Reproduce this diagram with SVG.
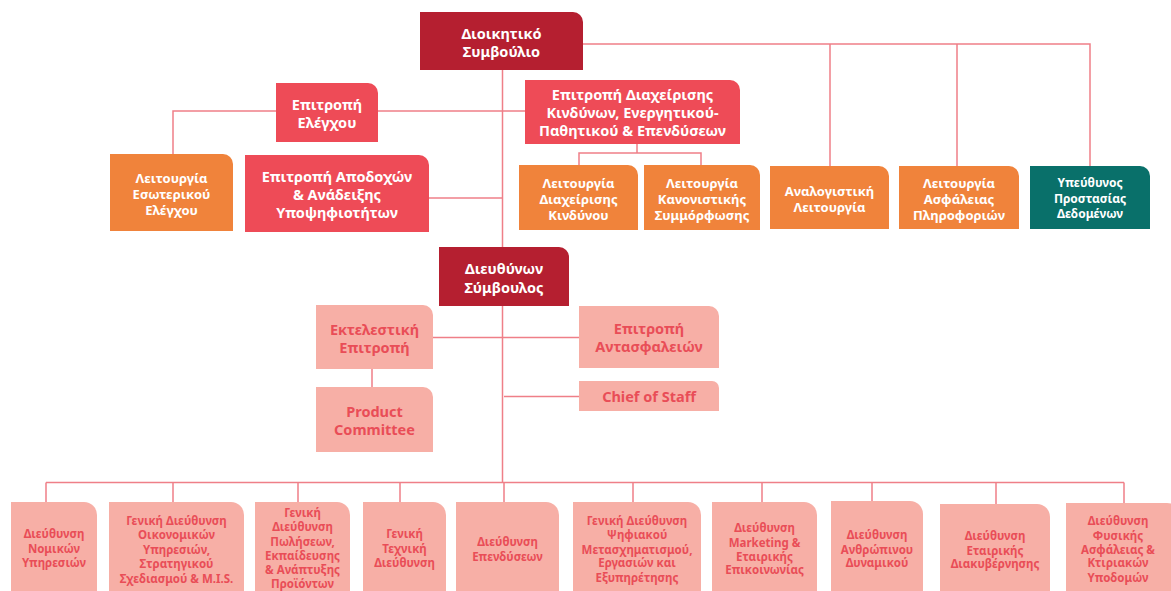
<svg xmlns="http://www.w3.org/2000/svg" width="1171" height="591" viewBox="0 0 1171 591">
<style>
text{font-family:"Noto Sans","DejaVu Sans",sans-serif;font-weight:700;text-anchor:middle}
.dark{fill:#b51f30}.red{fill:#ee4b57}.org{fill:#f0833b}.teal{fill:#09706a}.pink{fill:#f7afa6}
.w{fill:#fff}.p{fill:#e94d57}
.f15{font-size:14.5px}.f13{font-size:13px}.f12{font-size:12px}.f11{font-size:11.5px}
#connectors path{fill:none;stroke:#ef7f88;stroke-width:1.5}
</style>
<rect width="1171" height="591" fill="#fff"/>
<g id="connectors">
<path d="M502.5 70V482"/>
<path d="M583 44H1090V166M830 44V166M957 44V166"/>
<path d="M378 111H525M276 111H173V154"/>
<path d="M429 198H502.5"/>
<path d="M637 144V153H579V165M637 153H701V165"/>
<path d="M433 337.5H579M504 396.5H579M372 369V387"/>
<path d="M46 482.5H1124M46 482.5V502M173 482.5V502M298 482.5V502M400 482.5V502M504 482.5V502M633 482.5V502M762 482.5V502M872 482.5V501M996 482.5V504M1124 482.5V503"/>
</g>
<g id="n-board"><path class="dark" d="M420 12H573A10 10 0 0 1 583 22V70H420Z"/><text class="w f15" x="501.5" y="39">Διοικητικό</text><text class="w f15" x="501.5" y="57">Συμβούλιο</text></g>
<g id="n-audit"><path class="red" d="M276 83H368A10 10 0 0 1 378 93V142H276Z"/><text class="w f15" x="327" y="110">Επιτροπή</text><text class="w f15" x="327" y="128">Ελέγχου</text></g>
<g id="n-risk"><path class="red" d="M525 80H730A10 10 0 0 1 740 90V144H525Z"/><text class="w f15" x="632.5" y="100">Επιτροπή Διαχείρισης</text><text class="w f15" x="632.5" y="118">Κινδύνων, Ενεργητικού-</text><text class="w f15" x="632.5" y="136">Παθητικού &amp; Επενδύσεων</text></g>
<g id="n-intaudit"><path class="org" d="M110 154H223A10 10 0 0 1 233 164V231H110Z"/><text class="w f13" x="171.5" y="182.5">Λειτουργία</text><text class="w f13" x="171.5" y="198.5">Εσωτερικού</text><text class="w f13" x="171.5" y="214.5">Ελέγχου</text></g>
<g id="n-remun"><path class="red" d="M245 155H419A10 10 0 0 1 429 165V232H245Z"/><text class="w f15" x="337" y="182">Επιτροπή Αποδοχών</text><text class="w f15" x="337" y="200">&amp; Ανάδειξης</text><text class="w f15" x="337" y="218">Υποψηφιοτήτων</text></g>
<g id="n-riskfn"><path class="org" d="M519 165H628A10 10 0 0 1 638 175V230H519Z"/><text class="w f13" x="578.5" y="187.5">Λειτουργία</text><text class="w f13" x="578.5" y="203.5">Διαχείρισης</text><text class="w f13" x="578.5" y="219.5">Κινδύνου</text></g>
<g id="n-compliance"><path class="org" d="M644 165H750A10 10 0 0 1 760 175V230H644Z"/><text class="w f13" x="702" y="187.5">Λειτουργία</text><text class="w f13" x="702" y="203.5">Κανονιστικής</text><text class="w f13" x="702" y="219.5">Συμμόρφωσης</text></g>
<g id="n-actuarial"><path class="org" d="M770 166H879A10 10 0 0 1 889 176V229H770Z"/><text class="w f13" x="829.5" y="196">Αναλογιστική</text><text class="w f13" x="829.5" y="212">Λειτουργία</text></g>
<g id="n-infosec"><path class="org" d="M899 166H1009A10 10 0 0 1 1019 176V229H899Z"/><text class="w f13" x="959" y="187.5">Λειτουργία</text><text class="w f13" x="959" y="203.5">Ασφάλειας</text><text class="w f13" x="959" y="219.5">Πληροφοριών</text></g>
<g id="n-dpo"><path class="teal" d="M1030 166H1140A10 10 0 0 1 1150 176V229H1030Z"/><text class="w f12" x="1090" y="187">Υπεύθυνος</text><text class="w f12" x="1090" y="203">Προστασίας</text><text class="w f12" x="1090" y="218">Δεδομένων</text></g>
<g id="n-ceo"><path class="dark" d="M439 247H559A10 10 0 0 1 569 257V306H439Z"/><text class="w f15" x="504" y="274">Διευθύνων</text><text class="w f15" x="504" y="293">Σύμβουλος</text></g>
<g id="n-exec"><path class="pink" d="M316 305H423A10 10 0 0 1 433 315V369H316Z"/><text class="p f15" x="374.5" y="335">Εκτελεστική</text><text class="p f15" x="374.5" y="353">Επιτροπή</text></g>
<g id="n-reins"><path class="pink" d="M579 306H709A10 10 0 0 1 719 316V368H579Z"/><text class="p f15" x="649" y="334">Επιτροπή</text><text class="p f15" x="649" y="352">Αντασφαλειών</text></g>
<g id="n-chief"><path class="pink" d="M579 381H712A7 7 0 0 1 719 388V411H579Z"/><text class="p f15" x="649" y="401.5">Chief of Staff</text></g>
<g id="n-product"><path class="pink" d="M316 387H423A10 10 0 0 1 433 397V452H316Z"/><text class="p f15" x="374.5" y="417">Product</text><text class="p f15" x="374.5" y="435">Committee</text></g>
<g id="n-legal"><path class="pink" d="M11 502H84A13 13 0 0 1 97 515V600H11Z"/><text class="p f11" x="54" y="538">Διεύθυνση</text><text class="p f11" x="54" y="553">Νομικών</text><text class="p f11" x="54" y="567">Υπηρεσιών</text></g>
<g id="n-finance"><path class="pink" d="M109 502H231A13 13 0 0 1 244 515V600H109Z"/><text class="p f11" x="176.5" y="525">Γενική Διεύθυνση</text><text class="p f11" x="176.5" y="539">Οικονομικών</text><text class="p f11" x="176.5" y="554">Υπηρεσιών,</text><text class="p f11" x="176.5" y="568">Στρατηγικού</text><text class="p f11" x="176.5" y="583">Σχεδιασμού &amp; M.I.S.</text></g>
<g id="n-sales"><path class="pink" d="M255 502H337A13 13 0 0 1 350 515V600H255Z"/><text class="p f11" x="302.5" y="516.5">Γενική</text><text class="p f11" x="302.5" y="531">Διεύθυνση</text><text class="p f11" x="302.5" y="545.5">Πωλήσεων,</text><text class="p f11" x="302.5" y="559.5">Εκπαίδευσης</text><text class="p f11" x="302.5" y="573.5">&amp; Ανάπτυξης</text><text class="p f11" x="302.5" y="587.5">Προϊόντων</text></g>
<g id="n-tech"><path class="pink" d="M363 502H433A13 13 0 0 1 446 515V600H363Z"/><text class="p f11" x="404.5" y="538">Γενική</text><text class="p f11" x="404.5" y="553">Τεχνική</text><text class="p f11" x="404.5" y="567">Διεύθυνση</text></g>
<g id="n-invest"><path class="pink" d="M456 502H546A13 13 0 0 1 559 515V600H456Z"/><text class="p f11" x="507.5" y="546">Διεύθυνση</text><text class="p f11" x="507.5" y="561">Επενδύσεων</text></g>
<g id="n-digital"><path class="pink" d="M573 502H688A13 13 0 0 1 701 515V600H573Z"/><text class="p f11" x="637" y="525">Γενική Διεύθυνση</text><text class="p f11" x="637" y="539">Ψηφιακού</text><text class="p f11" x="637" y="554">Μετασχηματισμού,</text><text class="p f11" x="637" y="567">Εργασιών και</text><text class="p f11" x="637" y="582">Εξυπηρέτησης</text></g>
<g id="n-marketing"><path class="pink" d="M712 502H804A13 13 0 0 1 817 515V600H712Z"/><text class="p f11" x="764.5" y="532">Διεύθυνση</text><text class="p f11" x="764.5" y="547">Marketing &amp;</text><text class="p f11" x="764.5" y="561">Εταιρικής</text><text class="p f11" x="764.5" y="574">Επικοινωνίας</text></g>
<g id="n-hr"><path class="pink" d="M831 501H910A13 13 0 0 1 923 514V600H831Z"/><text class="p f11" x="877" y="539">Διεύθυνση</text><text class="p f11" x="877" y="554">Ανθρώπινου</text><text class="p f11" x="877" y="567">Δυναμικού</text></g>
<g id="n-governance"><path class="pink" d="M940 504H1037A13 13 0 0 1 1050 517V600H940Z"/><text class="p f11" x="995" y="540">Διεύθυνση</text><text class="p f11" x="995" y="555">Εταιρικής</text><text class="p f11" x="995" y="568">Διακυβέρνησης</text></g>
<g id="n-facilities"><path class="pink" d="M1066 503H1167A13 13 0 0 1 1180 516V600H1066Z"/><text class="p f11" x="1118" y="525">Διεύθυνση</text><text class="p f11" x="1118" y="540">Φυσικής</text><text class="p f11" x="1118" y="554">Ασφάλειας &amp;</text><text class="p f11" x="1118" y="567">Κτιριακών</text><text class="p f11" x="1118" y="582">Υποδομών</text></g>
</svg>
